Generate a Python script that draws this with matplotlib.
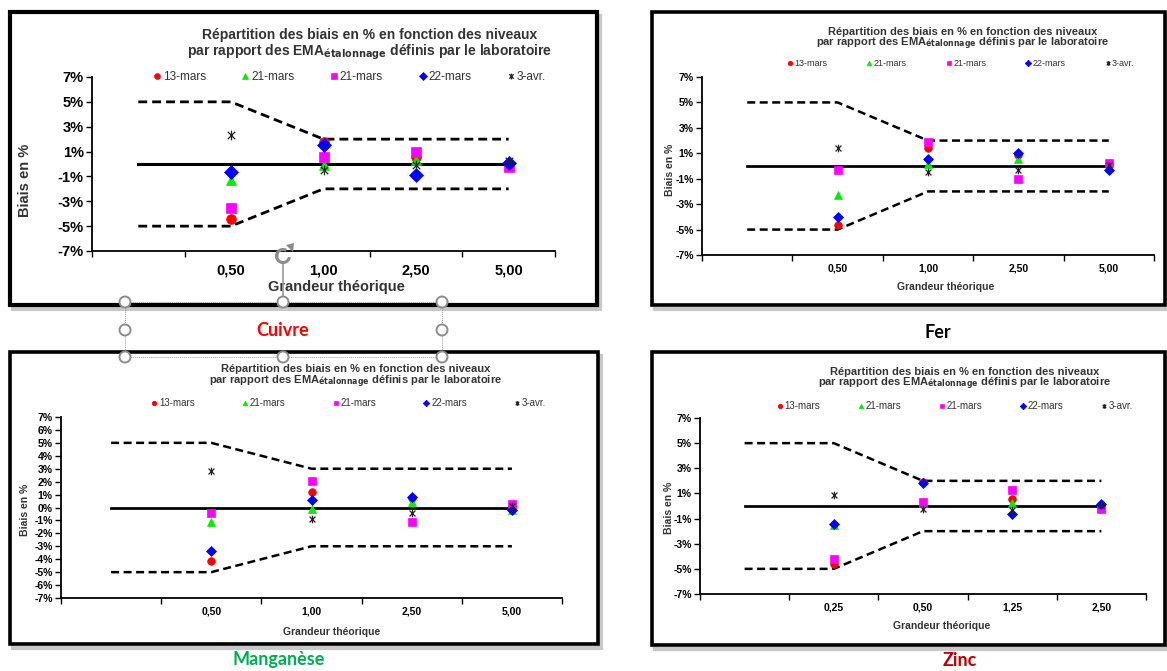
import matplotlib
matplotlib.use("Agg")
import matplotlib.pyplot as plt
from matplotlib.patches import Rectangle, Circle, Arc, Polygon
from matplotlib.lines import Line2D
from matplotlib.path import Path
from matplotlib.transforms import IdentityTransform

plt.rcParams['font.family'] = ['Liberation Sans', 'DejaVu Sans']

W, H = 1167, 671

# ---------------- data ----------------
series_labels = ["13-mars", "21-mars", "21-mars", "22-mars", "3-avr."]

# Cuivre
cu_levels = ["", "0,50", "1,00", "2,50", "5,00"]
cu_13mars = [-4.4, 1.75, 0.6, 0.0]
cu_21mars_a = [-1.25, -0.05, 0.3, -0.1]
cu_21mars_b = [-3.5, 0.55, 0.95, -0.25]
cu_22mars = [-0.65, 1.55, -0.85, 0.05]
cu_3avr = [2.3, -0.45, -0.1, 0.25]
cu_upper = [5, 5, 2, 2, 2]
cu_lower = [-5, -5, -2, -2, -2]
cu_ref = [0, 0, 0, 0, 0]

# Fer
fe_levels = ["", "0,50", "1,00", "2,50", "5,00"]
fe_13mars = [-4.65, 1.4, 0.85, 0.15]
fe_21mars_a = [-2.25, 0.15, 0.55, -0.05]
fe_21mars_b = [-0.3, 1.85, -1.05, 0.2]
fe_22mars = [-4.05, 0.55, 1.0, -0.3]
fe_3avr = [1.45, -0.5, -0.3, 0.1]
fe_upper = [5, 5, 2, 2, 2]
fe_lower = [-5, -5, -2, -2, -2]
fe_ref = [0, 0, 0, 0, 0]

# Manganèse
mn_levels = ["", "0,50", "1,00", "2,50", "5,00"]
mn_13mars = [-4.15, 1.2, 0.7, 0.1]
mn_21mars_a = [-1.1, -0.15, 0.4, -0.2]
mn_21mars_b = [-0.45, 2.05, -1.1, 0.25]
mn_22mars = [-3.4, 0.6, 0.8, -0.2]
mn_3avr = [2.8, -0.9, -0.4, 0.15]
mn_upper = [5, 5, 3, 3, 3]
mn_lower = [-5, -5, -3, -3, -3]
mn_ref = [0, 0, 0, 0, 0]

# Zinc
zn_levels = ["", "0,25", "0,50", "1,25", "2,50"]
zn_13mars = [-4.65, 1.9, 0.55, -0.05]
zn_21mars_a = [-1.5, 0.2, 0.25, -0.1]
zn_21mars_b = [-4.2, 0.35, 1.3, -0.25]
zn_22mars = [-1.45, 1.85, -0.6, 0.15]
zn_3avr = [0.9, -0.2, -0.35, 0.1]
zn_upper = [5, 5, 2, 2, 2]
zn_lower = [-5, -5, -2, -2, -2]
zn_ref = [0, 0, 0, 0, 0]

# ---------------- styling ----------------
star = Path([(-1, -1), (1, 1), (-1, 1), (1, -1), (0, -1.3), (0, 1.3)],
            [Path.MOVETO, Path.LINETO, Path.MOVETO, Path.LINETO, Path.MOVETO, Path.LINETO])
styles = [
    dict(marker='o', color='#FF0000'),
    dict(marker='^', color='#00EE00'),
    dict(marker='s', color='#FF00FF'),
    dict(marker='D', color='#0000FF'),
    dict(marker=star, color='#222222'),
]


def fx(x):
    return x / W


def fy(y):
    return 1 - y / H


fig = plt.figure(figsize=(W / 100, H / 100), dpi=100)
fig.patch.set_facecolor('white')
PX = IdentityTransform()


def frame(x0, y0, x1, y1, lw=2.6):
    fig.add_artist(Rectangle((fx(x0 + 3), fy(y1 + 4)), fx(x1 - x0), (y1 - y0) / H,
                             transform=fig.transFigure, facecolor='none',
                             edgecolor='#c8c8c8', lw=3, zorder=-3))
    fig.add_artist(Rectangle((fx(x0), fy(y1)), fx(x1 - x0), (y1 - y0) / H,
                             transform=fig.transFigure, facecolor='white',
                             edgecolor='black', lw=lw, zorder=-2))


def panel(box, levels, series, upper, lower, ref, cfg):
    x0, y0, x1, y1 = box
    ax = fig.add_axes([fx(x0), fy(y1), fx(x1 - x0), (y1 - y0) / H])
    ax.set_zorder(1)
    ax.set_facecolor('none')
    n = len(levels)
    xc = [i + 0.5 for i in range(n)]
    ax.plot(xc, upper, color='black', lw=cfg['dlw'], ls=(0, (3.2, 1.8)), zorder=2)
    ax.plot(xc, lower, color='black', lw=cfg['dlw'], ls=(0, (3.2, 1.8)), zorder=2)
    ax.plot(xc, ref, color='black', lw=cfg['dlw'] * 1.1, zorder=2)
    handles = []
    for vals, st, lab in zip(series, styles, series_labels):
        is_star = st['marker'] is star
        h, = ax.plot(xc[1:], vals, ls='none', marker=st['marker'], color=st['color'],
                     mec=st['color'], mfc='none' if is_star else st['color'],
                     ms=cfg['ms'], mew=0.9 if is_star else 0.5, zorder=3, label=lab)
        handles.append(h)
    ax.set_xlim(0, n)
    ax.set_ylim(-7, 7)
    ax.set_yticks(cfg['yticks'])
    ax.set_yticklabels([f"{v}%" for v in cfg['yticks']], fontsize=cfg['tfs'], fontweight='bold')
    ax.set_xticks(range(n + 1))
    ax.set_xticklabels([])
    ax.set_xticks(xc[1:], minor=True)
    ax.set_xticklabels(levels[1:], minor=True, fontsize=cfg['tfs'], fontweight='bold')
    ax.tick_params(axis='x', which='minor', length=0, pad=cfg['xpad'])
    ax.tick_params(axis='x', which='major', length=4, width=1, direction='out')
    ax.tick_params(axis='y', length=4, width=1, direction='out', pad=2)
    for s in ['top', 'right']:
        ax.spines[s].set_visible(False)
    for s in ['left', 'bottom']:
        ax.spines[s].set_linewidth(1.3)
    cx = cfg['title_cx']
    fig.text(fx(cx), fy(cfg['title_y'][0]),
             "Répartition des biais en % en fonction des niveaux",
             ha='center', va='center', fontsize=cfg['titfs'], fontweight='bold', color='#333333')
    fig.text(fx(cx), fy(cfg['title_y'][1]),
             r"par rapport des EMA$_{\mathbf{étalonnage}}$ définis par le laboratoire",
             ha='center', va='center', fontsize=cfg['titfs'], fontweight='bold', color='#333333')
    leg = fig.legend(handles=handles, loc='center',
                     bbox_to_anchor=(fx(cfg['leg'][0]), fy(cfg['leg'][1])),
                     ncol=5, frameon=False, fontsize=cfg['lfs'], handlelength=0.5, handletextpad=0.25,
                     columnspacing=cfg['colsp'], markerscale=cfg['mscale'], borderpad=0, borderaxespad=0)
    for t in leg.get_texts():
        t.set_color('#333333')
    fig.text(fx(cfg['xlab'][0]), fy(cfg['xlab'][1]), "Grandeur théorique", ha='center', va='center',
             fontsize=cfg['xlfs'], fontweight='bold', color='#333333')
    fig.text(fx(cfg['ylab'][0]), fy(cfg['ylab'][1]), "Biais en %", ha='center', va='center',
             rotation=90, fontsize=cfg['xlfs'], fontweight='bold', color='#333333')
    return ax


frame(10, 12, 597, 305, lw=3.0)
frame(652, 12, 1165, 305)
frame(10, 352, 598, 644)
frame(652, 352, 1165, 645)

panel((92, 77, 555, 251), cu_levels,
      [cu_13mars, cu_21mars_a, cu_21mars_b, cu_22mars, cu_3avr], cu_upper, cu_lower, cu_ref,
      dict(dlw=2.0, ms=7, tfs=10.5, xpad=9, yticks=list(range(-7, 8, 2)), titfs=10,
           title_cx=370, title_y=(35, 52), leg=(350, 77), lfs=8.5, colsp=3.1, mscale=0.6,
           xlab=(336, 287), ylab=(25, 180), xlfs=10.5))

panel((702, 77, 1154, 255), fe_levels,
      [fe_13mars, fe_21mars_a, fe_21mars_b, fe_22mars, fe_3avr], fe_upper, fe_lower, fe_ref,
      dict(dlw=1.8, ms=5.5, tfs=7.5, xpad=6, yticks=list(range(-7, 8, 2)), titfs=8,
           title_cx=963, title_y=(32, 44), leg=(961, 64), lfs=6.5, colsp=4.4, mscale=0.6,
           xlab=(946, 287), ylab=(670, 170), xlfs=7.5))

panel((61, 417, 562, 598), mn_levels,
      [mn_13mars, mn_21mars_a, mn_21mars_b, mn_22mars, mn_3avr], mn_upper, mn_lower, mn_ref,
      dict(dlw=1.8, ms=5.5, tfs=7.5, xpad=6, yticks=list(range(-7, 8, 1)), titfs=8,
           title_cx=356, title_y=(369, 382), leg=(349, 403), lfs=7, colsp=4.9, mscale=0.6,
           xlab=(332, 632), ylab=(25, 510), xlfs=7.5))

panel((700, 418, 1146, 594), zn_levels,
      [zn_13mars, zn_21mars_a, zn_21mars_b, zn_22mars, zn_3avr], zn_upper, zn_lower, zn_ref,
      dict(dlw=1.8, ms=5.5, tfs=7.5, xpad=6, yticks=list(range(-7, 8, 2)), titfs=8,
           title_cx=965, title_y=(372, 384), leg=(955, 406), lfs=7, colsp=3.9, mscale=0.6,
           xlab=(942, 626), ylab=(669, 508), xlfs=7.5))

cap_font = ['Lato', 'DejaVu Sans']
fig.text(fx(283), fy(330), "Cuivre", ha='center', va='center', fontsize=13, fontweight='bold',
         color='#FF0000', family=cap_font, zorder=5)
fig.text(fx(938), fy(333), "Fer", ha='center', va='center', fontsize=13, fontweight='bold',
         color='#000000', family=cap_font)
fig.text(fx(279), fy(660), "Manganèse", ha='center', va='center', fontsize=13, fontweight='bold',
         color='#00B050', family=cap_font)
fig.text(fx(960), fy(660), "Zinc", ha='center', va='center', fontsize=13, fontweight='bold',
         color='#C00000', family=cap_font)

# selection handles around the "Cuivre" text box (editor overlay)
hx = [125, 283, 442]
hy = [302, 330, 357]
for (xa, ya, xb, yb) in [(125, 302, 442, 302), (125, 357, 442, 357), (125, 302, 125, 357),
                         (442, 302, 442, 357)]:
    fig.add_artist(Line2D([xa, xb], [H - ya, H - yb], transform=PX, color='#999999', lw=0.7,
                          ls=(0, (1, 1)), zorder=6))
fig.add_artist(Line2D([283, 283], [H - 262, H - 297], transform=PX, color='#999999', lw=1.2, zorder=6))
for yy in hy:
    for xx in hx:
        if xx == 283 and yy == 330:
            continue
        fig.add_artist(Circle((xx, H - yy), 5.5, transform=PX, facecolor='white',
                              edgecolor='#8c8c8c', lw=1.4, zorder=7))
fig.add_artist(Arc((283, H - 256), 13, 13, theta1=60, theta2=350, transform=PX,
                   color='#8c8c8c', lw=2.2, zorder=7))
fig.add_artist(Polygon([(286, H - 245), (293, H - 252), (294, H - 243)], closed=True, transform=PX,
                       facecolor='#8c8c8c', edgecolor='none', zorder=7))

fig.savefig("out.png", dpi=100, facecolor='white')
